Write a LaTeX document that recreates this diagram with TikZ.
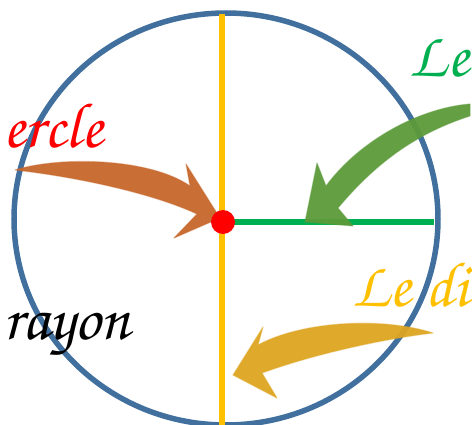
\documentclass[tikz,border=0pt]{standalone}
\usepackage[T1]{fontenc}
\usetikzlibrary{calc}

\definecolor{bordbleu}{HTML}{41709E}
\definecolor{jaunediam}{HTML}{FFC000}
\definecolor{vertrayon}{HTML}{00B050}
\definecolor{brosseorange}{HTML}{C6662A}
\definecolor{brossevert}{HTML}{5C9A3A}
\definecolor{brossejaune}{HTML}{DDA521}

\begin{document}
\begin{tikzpicture}[x=1pt, y=-1pt,
  brosse/.style={line join=round, fill opacity=0.95, draw opacity=0.4, line width=1.2pt},
  etiq/.style={font=\fontfamily{pzc}\fontsize{64}{66}\selectfont, inner sep=0pt}]

  \useasboundingbox (0,0) rectangle (472,425);

  % 圆心、直径两端、半径端点
  \coordinate (O) at (223,222);
  \coordinate (H) at (222,14);
  \coordinate (B) at (222,425);
  \coordinate (R) at (434,222);

  % 圆
  \begin{scope}
    \clip (0,0) rectangle (472,425);
    \draw[bordbleu, line width=5.5pt] (226,219) ellipse [x radius=212, y radius=206];
  \end{scope}

  % 直径与半径
  \draw[jaunediam, line width=5.5pt] (H) -- (B);
  \draw[vertrayon, line width=5.5pt] (O) -- (R);

  % 文字
  \node[etiq, red, anchor=base west]       (cercle)  at (3,148)   {ercle};
  \node[etiq, vertrayon, anchor=base east] (lerayon) at (469,77)  {Le};
  \node[etiq, jaunediam, anchor=base east] (lediam)  at (469,307) {Le di};
  \node[etiq, black, anchor=base west]     (rayon)   at (3,340)   {rayon};

  % 三支笔刷箭头
  \filldraw[brosse, brosseorange] (15,170)
    .. controls (60,156) and (150,158) .. (190,186) -- (186,164)
    -- (220,218) -- (174,238) -- (197,214)
    .. controls (150,192) and (70,176) .. (15,170) -- cycle;
  \filldraw[brosse, brossevert] (470,104)
    .. controls (420,108) and (360,140) .. (326,186) -- (317,163)
    -- (305,222) -- (353,226) -- (338,208)
    .. controls (378,160) and (420,132) .. (470,116) -- cycle;
  \filldraw[brosse, brossejaune] (433,333)
    .. controls (380,316) and (300,322) .. (258,345) -- (263,327)
    -- (233,375) -- (277,398) -- (262,373)
    .. controls (320,352) and (390,338) .. (433,333) -- cycle;

  \fill[red] (O) circle (12);
\end{tikzpicture}
\end{document}
